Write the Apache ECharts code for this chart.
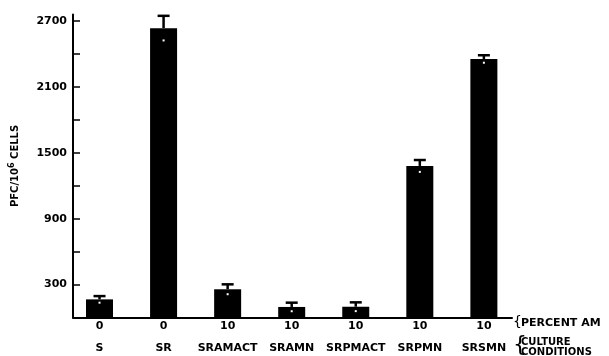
<!DOCTYPE html>
<html>
<head>
<meta charset="utf-8">
<script src="https://cdn.jsdelivr.net/npm/echarts@6/dist/echarts.min.js"></script>
<style>
  html, body { margin: 0; padding: 0; background: #fff; }
  #chart { width: 609px; height: 356px; }
</style>
</head>
<body>
<div id="chart"></div>
<script>
// Plaque-forming cells per 10^6 cells under each culture condition
const conditions = ['S', 'SR', 'SRAMACT', 'SRAMN', 'SRPMACT', 'SRPMN', 'SRSMN'];
const percentAM = ['0', '0', '10', '10', '10', '10', '10'];
const pfcMeans = [165, 2635, 257, 96, 98, 1380, 2354];
const pfcErrors = [30, 112, 45, 39, 40, 54, 34];
const yTicks = [0, 300, 600, 900, 1200, 1500, 1800, 2100, 2400, 2700];
const yLabels = [300, 900, 1500, 2100, 2700];

const FONT = 'DejaVu Sans';
const positions = conditions.map((_, i) => i);

const barData = positions.map((i) => [i, pfcMeans[i]]);
const errData = positions.map((i) => [i, pfcMeans[i], pfcErrors[i]]);

const chart = echarts.init(document.getElementById('chart'), null, { renderer: 'canvas' });

chart.setOption({
  animation: false,
  backgroundColor: '#fff',
  grid: { left: 70, right: 97, top: 14.4, bottom: 38.5, containLabel: false },
  xAxis: {
    type: 'value',
    min: -0.414,
    max: 6.439,
    splitLine: { show: false },
    axisLine: { show: true, onZero: false, lineStyle: { color: '#000', width: 2 } },
    axisTick: { show: false },
    axisLabel: {
      customValues: positions,
      margin: 3,
      color: '#000',
      fontFamily: FONT,
      fontWeight: 'bold',
      fontSize: 11,
      formatter: (v) => {
        const i = Math.round(v);
        return '{p|' + percentAM[i] + '}\n{c|' + conditions[i] + '}';
      },
      rich: {
        p: { fontFamily: FONT, fontWeight: 'bold', fontSize: 11, lineHeight: 12, color: '#000' },
        c: { fontFamily: FONT, fontWeight: 'bold', fontSize: 11, lineHeight: 31, color: '#000' }
      }
    }
  },
  yAxis: {
    type: 'value',
    min: 0,
    max: 2760,
    splitLine: { show: false },
    axisLine: { show: true, onZero: false, lineStyle: { color: '#000', width: 2 } },
    axisTick: {
      show: true,
      inside: true,
      length: 7,
      customValues: yTicks,
      lineStyle: { color: '#000', width: 1.5 }
    },
    axisLabel: {
      customValues: yLabels,
      margin: 6,
      color: '#000',
      fontFamily: FONT,
      fontWeight: 'bold',
      fontSize: 11,
      formatter: (v) => String(v)
    },
    name: 'PFC/10{s|6} CELLS',
    nameLocation: 'middle',
    nameRotate: 90,
    nameGap: 51,
    nameTextStyle: {
      color: '#000',
      fontFamily: FONT,
      fontWeight: 'bold',
      fontSize: 10,
      lineHeight: 14,
      rich: {
        s: { fontFamily: FONT, fontWeight: 'bold', fontSize: 8, verticalAlign: 'top', lineHeight: 14, color: '#000' }
      }
    }
  },
  series: [
    {
      type: 'bar',
      data: barData,
      barWidth: 27,
      itemStyle: { color: '#000' }
    },
    {
      type: 'custom',
      data: errData,
      clip: false,
      z: 3,
      renderItem: (params, api) => {
        const x = api.value(0);
        const mean = api.value(1);
        const err = api.value(2);
        const base = api.coord([x, mean]);
        const top = api.coord([x, mean + err]);
        const low = api.coord([x, mean - err]);
        return {
          type: 'group',
          children: [
            {
              type: 'line',
              shape: { x1: base[0], y1: base[1], x2: top[0], y2: top[1] },
              style: { stroke: '#000', lineWidth: 2.5 }
            },
            {
              type: 'line',
              shape: { x1: top[0] - 6, y1: top[1], x2: top[0] + 6, y2: top[1] },
              style: { stroke: '#000', lineWidth: 2.5 }
            },
            {
              type: 'rect',
              shape: { x: low[0] - 1, y: low[1] - 1, width: 2, height: 2 },
              style: { fill: '#fff' }
            }
          ]
        };
      }
    }
  ],
  graphic: [
    {
      type: 'text',
      left: 513,
      top: 315,
      style: {
        text: '{',
        font: '14px "DejaVu Sans"',
        fill: '#000'
      }
    },
    {
      type: 'text',
      left: 521,
      top: 317.5,
      style: {
        text: 'PERCENT AM',
        fontFamily: FONT,
        fontWeight: 'bold',
        fontSize: 11,
        fill: '#000'
      }
    },
    {
      type: 'text',
      left: 513,
      top: 334,
      style: {
        text: '{',
        font: '22px "DejaVu Sans"',
        fill: '#000'
      }
    },
    {
      type: 'text',
      left: 521,
      top: 337,
      style: {
        text: 'CULTURE\nCONDITIONS',
        fontFamily: FONT,
        fontWeight: 'bold',
        fontSize: 10,
        lineHeight: 10,
        fill: '#000'
      }
    }
  ]
});
</script>
</body>
</html>
